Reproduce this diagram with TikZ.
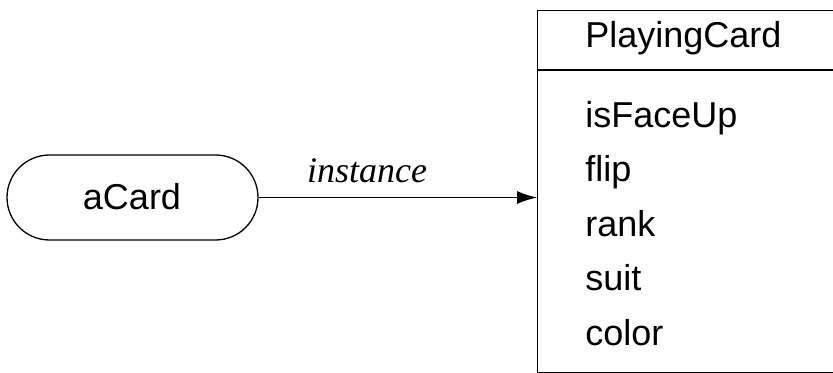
\documentclass[tikz,border=0pt]{standalone}
\usepackage{fontspec}
\setmainfont{Liberation Sans}
\newfontfamily\labelfont{Liberation Serif}
\usepackage{tikz}
\usetikzlibrary{shapes.misc, arrows.meta}

\tikzset{
    objnode/.style={draw, rounded rectangle, line width=0.65pt, minimum width=125.5pt, minimum height=42.5pt, inner sep=0pt},
    classbox/.style={draw, rectangle, line width=0.65pt, minimum width=160pt, minimum height=181pt, inner sep=0pt, anchor=north west},
    member/.style={anchor=base west, inner sep=0pt},
}

\begin{document}
\begin{tikzpicture}[x=0.5pt, y=-0.5pt, font=\fontsize{18}{22}\selectfont]
        \useasboundingbox (0,0) rectangle (833,373);

        % the object
        \node[objnode] (acard) at (132.5,197.5) {};
        \node[anchor=base, inner sep=0pt] (acardname) at (132,210) {aCard};

        % the class (its right side runs off the page)
        \node[classbox] (cls) at (537,10) {};
        \draw[line width=0.65pt] (cls.west |- 0,70) -- (cls.east |- 0,70);
        \node[member] (clsname) at (585,48) {PlayingCard};
        \node[member] (isfaceup) at (585,128) {isFaceUp};
        \node[member] (flip) at (585,182) {flip};
        \node[member] (rank) at (585,237) {rank};
        \node[member] (suit) at (585,291) {suit};
        \node[member] (color) at (585,345) {color};

        % instance link
        \draw[line width=0.7pt, -{Latex[length=10pt, width=6.5pt]}] (acard.east) -- (acard.east -| cls.west);
        \node[anchor=base, inner sep=0pt, font=\fontsize{18}{22}\selectfont\labelfont\itshape] (inst) at (367,183) {instance};
    \end{tikzpicture}
\end{document}
